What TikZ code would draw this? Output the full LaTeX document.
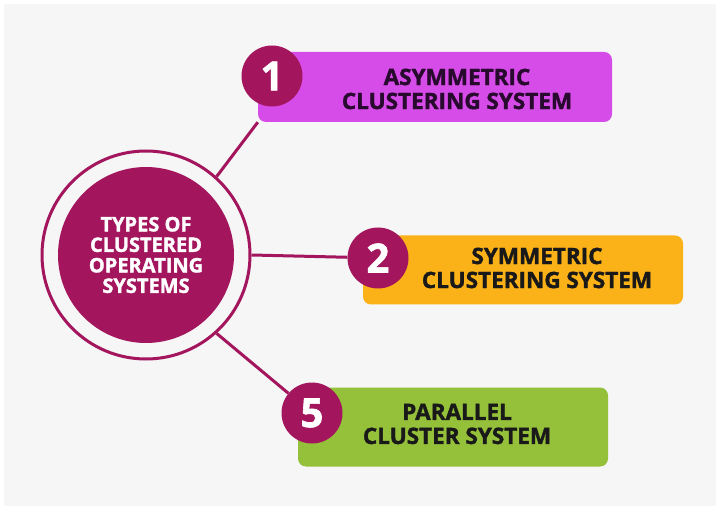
\documentclass[tikz,border=0pt]{standalone}
\usepackage{fontspec}
\setmainfont{Open Sans}[BoldFeatures={FakeBold=1.6}]
\usetikzlibrary{positioning,backgrounds}
\definecolor{berry}{RGB}{163,22,93}
\definecolor{violetbox}{RGB}{214,76,232}
\definecolor{amberbox}{RGB}{251,178,24}
\definecolor{limebox}{RGB}{148,192,58}
\definecolor{paper}{RGB}{246,246,246}
\definecolor{inkviolet}{RGB}{40,10,46}
\tikzset{
  badge/.style={circle, fill=berry, text=white, minimum size=61pt, inner sep=0pt,
    font=\bfseries\fontsize{40}{42}\selectfont},
  typebox/.style={rectangle, rounded corners=8pt, inner sep=0pt},
  typetext/.style={align=center, text=black!90, font=\bfseries\fontsize{22.5}{24}\selectfont},
  link/.style={draw=berry, line width=3pt}
}
\begin{document}
\begin{tikzpicture}[x=1pt,y=-1pt]
    \useasboundingbox (0,0) rectangle (720,510);

    \node[circle, draw=berry, line width=3pt, minimum size=208pt, inner sep=0pt] (ring) at (146,255) {};
    \node[circle, fill=berry, minimum size=176pt, inner sep=0pt, text=white, align=center,
      font=\bfseries\fontsize{20}{20.5}\selectfont] (hub) at (ring.center) {TYPES OF\\CLUSTERED\\OPERATING\\SYSTEMS};

    \node[typebox, fill=violetbox, minimum width=354pt, minimum height=70pt] (box1) at (435,87) {};
    \node[typebox, fill=amberbox, minimum width=320pt, minimum height=69pt] (box2) at (523,270) {};
    \node[typebox, fill=limebox, minimum width=310pt, minimum height=79pt] (box5) at (453,427) {};

    \node[typetext, text=inkviolet] (t1) at (457,89) {ASYMMETRIC\\CLUSTERING SYSTEM};
    \node[typetext] (t2) at (537,268) {SYMMETRIC\\CLUSTERING SYSTEM};
    \node[typetext] (t5) at (457,424) {PARALLEL\\CLUSTER SYSTEM};

    \node[badge] (b1) at (272,76) {1};
    \node[badge] (b2) at (378,258) {2};
    \node[badge] (b5) at (312,413) {5};

    \begin{scope}[on background layer]
      \fill[white] (0,0) rectangle (720,510);
      \fill[paper] (4,4) rectangle (716,506);
      \draw[link] (ring.48)  -- (box1.south west);
      \draw[link] (ring.east) -- (b2);
      \draw[link] (ring.-48) -- (b5);
    \end{scope}
\end{tikzpicture}
\end{document}
